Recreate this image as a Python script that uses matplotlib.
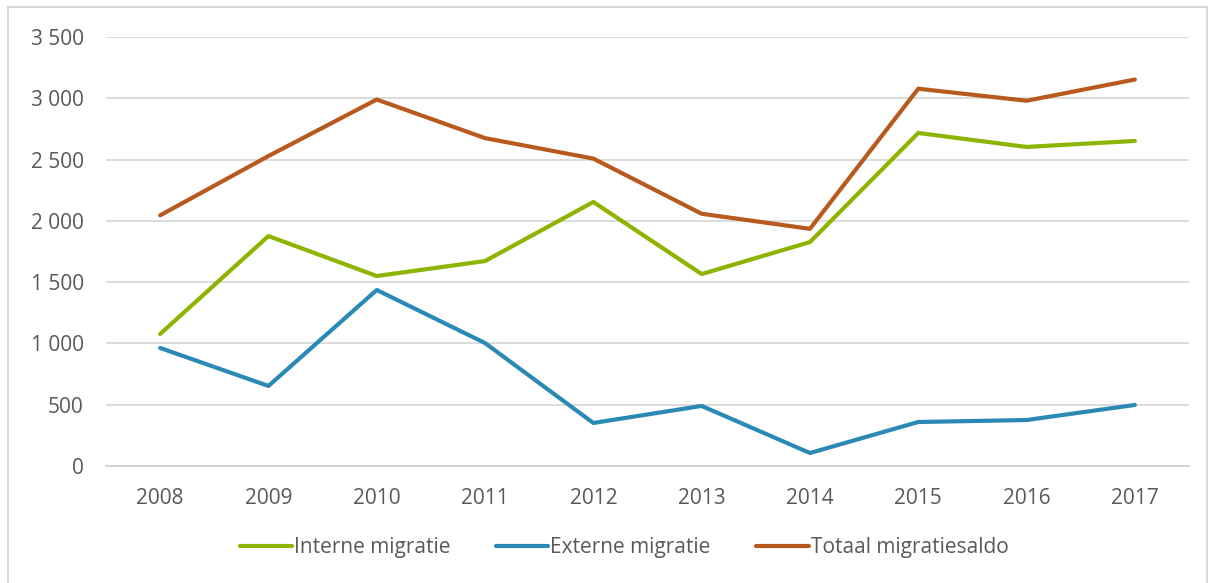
import matplotlib
matplotlib.use("Agg")
import matplotlib.pyplot as plt
from matplotlib.patches import Rectangle

years = ["2008", "2009", "2010", "2011", "2012", "2013", "2014", "2015", "2016", "2017"]
interne = [1077, 1876, 1550, 1672, 2154, 1566, 1827, 2717, 2603, 2652]
externe = [963, 653, 1436, 1003, 351, 490, 106, 359, 375, 498]
totaal = [2045, 2529, 2990, 2675, 2508, 2058, 1935, 3078, 2980, 3153]
yticks = [0, 500, 1000, 1500, 2000, 2500, 3000, 3500]
ytick_labels = ["0", "500", "1 000", "1 500", "2 000", "2 500", "3 000", "3 500"]

plt.rcParams['font.family'] = ['Open Sans', 'DejaVu Sans']
txt = '#595959'

fig = plt.figure(figsize=(12.15, 5.83), dpi=100)
fig.patches.append(Rectangle((8/1215, -0.01), (1207-8)/1215, 1 - 7/583 + 0.01,
                             transform=fig.transFigure, fill=False,
                             edgecolor='#d9d9d9', linewidth=1.5))
ax = fig.add_axes([106/1215, 1 - 466/583, (1189-106)/1215, (466-37)/583])

x = list(range(len(years)))
ax.plot(x, interne, color='#8db400', lw=3, label='Interne migratie', solid_capstyle='round')
ax.plot(x, externe, color='#2b8ab5', lw=3, label='Externe migratie', solid_capstyle='round')
ax.plot(x, totaal, color='#b85a1e', lw=3, label='Totaal migratiesaldo', solid_capstyle='round')

ax.set_xlim(-0.5, len(years) - 0.5)
ax.set_ylim(0, 3500)
ax.set_yticks(yticks)
ax.set_yticklabels(ytick_labels)
ax.set_xticks(x)
ax.set_xticklabels(years)
ax.grid(axis='y', color='#d9d9d9', lw=1.3)
ax.set_axisbelow(True)
for s in ['top', 'right', 'left']:
    ax.spines[s].set_visible(False)
ax.spines['bottom'].set_color('#d0d0d0')
ax.spines['bottom'].set_linewidth(1.3)
ax.tick_params(axis='both', length=0, labelsize=15, colors=txt)
ax.tick_params(axis='y', pad=16)
ax.tick_params(axis='x', pad=16)

leg = fig.legend(loc='center', bbox_to_anchor=(624/1215, 1 - 548/583), ncol=3,
                 frameon=False, fontsize=15, handlelength=2.5, handletextpad=0.1,
                 columnspacing=2.2)
for t in leg.get_texts():
    t.set_color(txt)

fig.savefig('out.png', dpi=100)
